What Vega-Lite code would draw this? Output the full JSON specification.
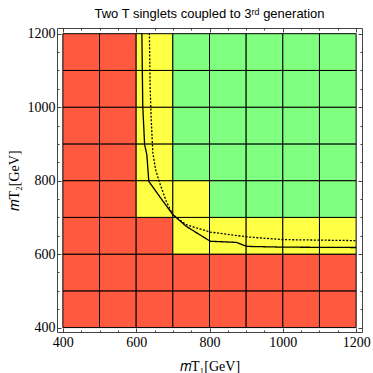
{
  "$schema": "https://vega.github.io/schema/vega-lite/v6.json",
  "width": 305,
  "height": 304,
  "autosize": {"type": "none"},
  "padding": {"left": 57, "top": 28, "right": 11, "bottom": 41},
  "background": "white",
  "title": {"text": "Two T singlets coupled to 3ʳᵈ generation", "anchor": "middle", "font": "Liberation Sans", "fontSize": 13, "fontWeight": "normal", "color": "black", "offset": 6},
  "config": {
    "view": {"stroke": null},
    "axis": {"domainColor": "#444", "tickColor": "#444", "grid": false, "labelFont": "Liberation Serif", "labelFontSize": 14, "labelColor": "black", "titleFont": "Liberation Serif", "titleFontSize": 14, "titleFontWeight": "normal", "titleColor": "black"}
  },
  "datasets": {
    "cells": [
      {"x1":400,"x2":500,"y1":400,"y2":500,"status":"excluded"},
      {"x1":400,"x2":500,"y1":500,"y2":600,"status":"excluded"},
      {"x1":400,"x2":500,"y1":600,"y2":700,"status":"excluded"},
      {"x1":400,"x2":500,"y1":700,"y2":800,"status":"excluded"},
      {"x1":400,"x2":500,"y1":800,"y2":900,"status":"excluded"},
      {"x1":400,"x2":500,"y1":900,"y2":1000,"status":"excluded"},
      {"x1":400,"x2":500,"y1":1000,"y2":1100,"status":"excluded"},
      {"x1":400,"x2":500,"y1":1100,"y2":1200,"status":"excluded"},
      {"x1":500,"x2":600,"y1":400,"y2":500,"status":"excluded"},
      {"x1":500,"x2":600,"y1":500,"y2":600,"status":"excluded"},
      {"x1":500,"x2":600,"y1":600,"y2":700,"status":"excluded"},
      {"x1":500,"x2":600,"y1":700,"y2":800,"status":"excluded"},
      {"x1":500,"x2":600,"y1":800,"y2":900,"status":"excluded"},
      {"x1":500,"x2":600,"y1":900,"y2":1000,"status":"excluded"},
      {"x1":500,"x2":600,"y1":1000,"y2":1100,"status":"excluded"},
      {"x1":500,"x2":600,"y1":1100,"y2":1200,"status":"excluded"},
      {"x1":600,"x2":700,"y1":400,"y2":500,"status":"excluded"},
      {"x1":600,"x2":700,"y1":500,"y2":600,"status":"excluded"},
      {"x1":600,"x2":700,"y1":600,"y2":700,"status":"excluded"},
      {"x1":600,"x2":700,"y1":700,"y2":800,"status":"partial"},
      {"x1":600,"x2":700,"y1":800,"y2":900,"status":"partial"},
      {"x1":600,"x2":700,"y1":900,"y2":1000,"status":"partial"},
      {"x1":600,"x2":700,"y1":1000,"y2":1100,"status":"partial"},
      {"x1":600,"x2":700,"y1":1100,"y2":1200,"status":"partial"},
      {"x1":700,"x2":800,"y1":400,"y2":500,"status":"excluded"},
      {"x1":700,"x2":800,"y1":500,"y2":600,"status":"excluded"},
      {"x1":700,"x2":800,"y1":600,"y2":700,"status":"partial"},
      {"x1":700,"x2":800,"y1":700,"y2":800,"status":"partial"},
      {"x1":700,"x2":800,"y1":800,"y2":900,"status":"allowed"},
      {"x1":700,"x2":800,"y1":900,"y2":1000,"status":"allowed"},
      {"x1":700,"x2":800,"y1":1000,"y2":1100,"status":"allowed"},
      {"x1":700,"x2":800,"y1":1100,"y2":1200,"status":"allowed"},
      {"x1":800,"x2":900,"y1":400,"y2":500,"status":"excluded"},
      {"x1":800,"x2":900,"y1":500,"y2":600,"status":"excluded"},
      {"x1":800,"x2":900,"y1":600,"y2":700,"status":"partial"},
      {"x1":800,"x2":900,"y1":700,"y2":800,"status":"allowed"},
      {"x1":800,"x2":900,"y1":800,"y2":900,"status":"allowed"},
      {"x1":800,"x2":900,"y1":900,"y2":1000,"status":"allowed"},
      {"x1":800,"x2":900,"y1":1000,"y2":1100,"status":"allowed"},
      {"x1":800,"x2":900,"y1":1100,"y2":1200,"status":"allowed"},
      {"x1":900,"x2":1000,"y1":400,"y2":500,"status":"excluded"},
      {"x1":900,"x2":1000,"y1":500,"y2":600,"status":"excluded"},
      {"x1":900,"x2":1000,"y1":600,"y2":700,"status":"partial"},
      {"x1":900,"x2":1000,"y1":700,"y2":800,"status":"allowed"},
      {"x1":900,"x2":1000,"y1":800,"y2":900,"status":"allowed"},
      {"x1":900,"x2":1000,"y1":900,"y2":1000,"status":"allowed"},
      {"x1":900,"x2":1000,"y1":1000,"y2":1100,"status":"allowed"},
      {"x1":900,"x2":1000,"y1":1100,"y2":1200,"status":"allowed"},
      {"x1":1000,"x2":1100,"y1":400,"y2":500,"status":"excluded"},
      {"x1":1000,"x2":1100,"y1":500,"y2":600,"status":"excluded"},
      {"x1":1000,"x2":1100,"y1":600,"y2":700,"status":"partial"},
      {"x1":1000,"x2":1100,"y1":700,"y2":800,"status":"allowed"},
      {"x1":1000,"x2":1100,"y1":800,"y2":900,"status":"allowed"},
      {"x1":1000,"x2":1100,"y1":900,"y2":1000,"status":"allowed"},
      {"x1":1000,"x2":1100,"y1":1000,"y2":1100,"status":"allowed"},
      {"x1":1000,"x2":1100,"y1":1100,"y2":1200,"status":"allowed"},
      {"x1":1100,"x2":1200,"y1":400,"y2":500,"status":"excluded"},
      {"x1":1100,"x2":1200,"y1":500,"y2":600,"status":"excluded"},
      {"x1":1100,"x2":1200,"y1":600,"y2":700,"status":"partial"},
      {"x1":1100,"x2":1200,"y1":700,"y2":800,"status":"allowed"},
      {"x1":1100,"x2":1200,"y1":800,"y2":900,"status":"allowed"},
      {"x1":1100,"x2":1200,"y1":900,"y2":1000,"status":"allowed"},
      {"x1":1100,"x2":1200,"y1":1000,"y2":1100,"status":"allowed"},
      {"x1":1100,"x2":1200,"y1":1100,"y2":1200,"status":"allowed"}
    ],
    "curves": [
      {"curve":"solid","i":0,"mT1":615.5,"mT2":1202},
      {"curve":"solid","i":1,"mT1":618,"mT2":1002},
      {"curve":"solid","i":2,"mT1":623,"mT2":898},
      {"curve":"solid","i":3,"mT1":629,"mT2":871},
      {"curve":"solid","i":4,"mT1":634.5,"mT2":798},
      {"curve":"solid","i":5,"mT1":663.7,"mT2":757},
      {"curve":"solid","i":6,"mT1":700,"mT2":707.5},
      {"curve":"solid","i":7,"mT1":736.5,"mT2":675.6},
      {"curve":"solid","i":8,"mT1":802,"mT2":635},
      {"curve":"solid","i":9,"mT1":873,"mT2":632},
      {"curve":"solid","i":10,"mT1":902,"mT2":621},
      {"curve":"solid","i":11,"mT1":1000,"mT2":619},
      {"curve":"solid","i":12,"mT1":1200,"mT2":618},
      {"curve":"dotted","i":0,"mT1":636,"mT2":1202},
      {"curve":"dotted","i":1,"mT1":638,"mT2":1057},
      {"curve":"dotted","i":2,"mT1":641,"mT2":966},
      {"curve":"dotted","i":3,"mT1":645.5,"mT2":875},
      {"curve":"dotted","i":4,"mT1":653,"mT2":830},
      {"curve":"dotted","i":5,"mT1":664,"mT2":794},
      {"curve":"dotted","i":6,"mT1":682,"mT2":744},
      {"curve":"dotted","i":7,"mT1":700,"mT2":707},
      {"curve":"dotted","i":8,"mT1":736.5,"mT2":680},
      {"curve":"dotted","i":9,"mT1":802,"mT2":660},
      {"curve":"dotted","i":10,"mT1":902,"mT2":647},
      {"curve":"dotted","i":11,"mT1":1000,"mT2":639.5},
      {"curve":"dotted","i":12,"mT1":1200,"mT2":636.7}
    ]
  },
  "resolve": {"axis": {"x": "independent", "y": "independent"}},
  "layer": [
    {
      "data": {"name": "cells"},
      "mark": {"type": "rect", "stroke": "black", "strokeWidth": 1},
      "encoding": {
        "x": {"field": "x1", "type": "quantitative", "scale": {"domain": [384, 1216], "nice": false, "zero": false},
          "axis": {"orient": "bottom", "title": "𝑚T₁[GeV]", "titlePadding": 8, "values": [400,450,500,550,600,650,700,750,800,850,900,950,1000,1050,1100,1150,1200],
            "labelExpr": "datum.value % 200 === 0 ? datum.label : ''", "format": "d",
            "tickSize": {"condition": {"test": "datum.value % 200 === 0", "value": -4}, "value": -2},
            "labelPadding": 7, "labelFlush": false, "labelOverlap": false}},
        "x2": {"field": "x2"},
        "y": {"field": "y1", "type": "quantitative", "scale": {"domain": [388, 1215.5], "nice": false, "zero": false},
          "axis": {"orient": "left", "title": "𝑚T₂[GeV]", "titlePadding": 6, "values": [400,450,500,550,600,650,700,750,800,850,900,950,1000,1050,1100,1150,1200],
            "labelExpr": "datum.value % 200 === 0 ? datum.label : ''", "format": "d",
            "tickSize": {"condition": {"test": "datum.value % 200 === 0", "value": -4}, "value": -2},
            "labelPadding": 6, "labelFlush": false, "labelOverlap": false}},
        "y2": {"field": "y2"},
        "color": {"field": "status", "type": "nominal", "legend": null,
          "scale": {"domain": ["excluded", "partial", "allowed"], "range": ["#FF5A40", "#FFFF44", "#80FF80"]}}
      }
    },
    {
      "data": {"name": "curves"},
      "mark": {"type": "line", "color": "black", "strokeWidth": 1.3},
      "encoding": {
        "x": {"field": "mT1", "type": "quantitative",
          "axis": {"orient": "top", "title": null, "labels": false, "values": [400,450,500,550,600,650,700,750,800,850,900,950,1000,1050,1100,1150,1200],
            "tickSize": {"condition": {"test": "datum.value % 200 === 0", "value": -4}, "value": -2}}},
        "y": {"field": "mT2", "type": "quantitative",
          "axis": {"orient": "right", "title": null, "labels": false, "values": [400,450,500,550,600,650,700,750,800,850,900,950,1000,1050,1100,1150,1200],
            "tickSize": {"condition": {"test": "datum.value % 200 === 0", "value": -4}, "value": -2}}},
        "order": {"field": "i", "type": "quantitative"},
        "detail": {"field": "curve"},
        "strokeDash": {"field": "curve", "type": "nominal", "legend": null,
          "scale": {"domain": ["solid", "dotted"], "range": [[1, 0], [2, 1.6]]}}
      }
    }
  ]
}
